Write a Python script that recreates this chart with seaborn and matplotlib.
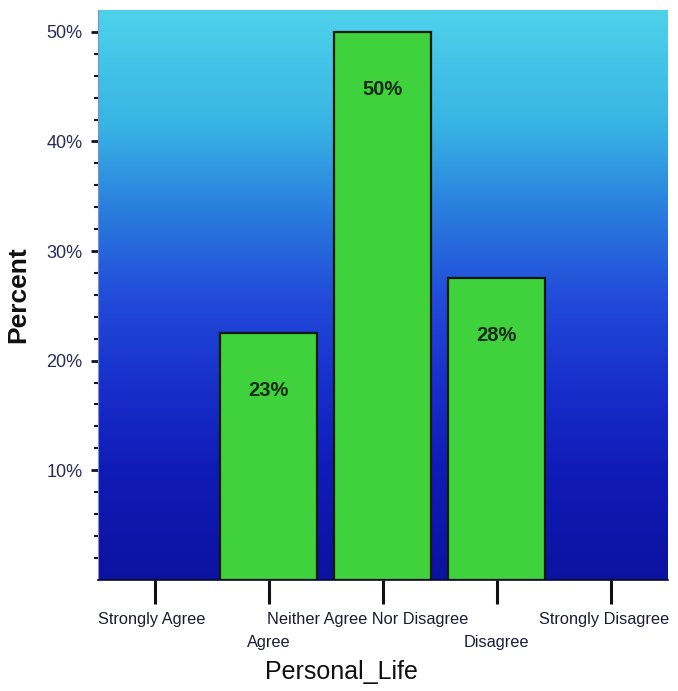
import numpy as np
import pandas as pd
import seaborn as sns
import matplotlib.pyplot as plt
from matplotlib.colors import LinearSegmentedColormap
from matplotlib.transforms import ScaledTranslation

categories = ['Strongly Agree', 'Agree', 'Neither Agree Nor Disagree', 'Disagree', 'Strongly Disagree']
percents = [0.0, 22.5, 50.0, 27.5, 0.0]
bar_labels = ['', '23%', '50%', '28%', '']
yticks = [10, 20, 30, 40, 50]

df = pd.DataFrame({'Personal_Life': categories, 'Percent': percents})

sns.set_style('white')
plt.rcParams['font.family'] = ['Liberation Sans', 'DejaVu Sans']

fig = plt.figure(figsize=(6.78, 6.91), dpi=100)
ax = fig.add_axes([0.1445, 0.161, 0.8405, 0.8245])

# gradient background, cyan at the top to deep blue at the bottom
bg = LinearSegmentedColormap.from_list('bg', [
    (0.0, '#0c12a0'), (0.2, '#101cb8'), (0.35, '#1830cc'),
    (0.5, '#224cda'), (0.65, '#2a7ede'), (0.8, '#38b4e4'), (1.0, '#4ed2ea')])
grad = np.linspace(0, 1, 256).reshape(-1, 1)
ax.imshow(grad, cmap=bg, aspect='auto', origin='lower',
          extent=[-0.5, 4.5, 0, 52], zorder=0)

sns.barplot(data=df, x='Personal_Life', y='Percent', order=categories,
            color='#3fd23c', saturation=1, width=0.85, edgecolor='#0a1a10',
            linewidth=1.6, errorbar=None, zorder=2, ax=ax)

ax.bar_label(ax.containers[0], labels=bar_labels, padding=-48, fontsize=14.5,
             fontweight='bold', color='#1c2a1c', zorder=3)

ax.set_xlim(-0.5, 4.5)
ax.set_ylim(0, 52)
ax.set_yticks(yticks)
ax.set_yticklabels([f'{t}%' for t in yticks], fontsize=13, color='#2a2a58')
ax.set_yticks(np.arange(2, 52, 2), minor=True)
ax.tick_params(axis='y', which='major', left=True, length=5, width=2, color='#101030', pad=6)
ax.tick_params(axis='y', which='minor', left=True, length=3, width=1.5, color='#101030')

ax.set_xticks(range(len(categories)))
ax.set_xticklabels(categories, fontsize=11.8, color='#1c1c38')
ax.tick_params(axis='x', bottom=True, length=17, width=2.2, color='#101010', pad=6)

# staggered labels: odd ones drop to a second row, long ones nudged left
shift_x = [-3, 0, -15, 0, -7]
for i, lab in enumerate(ax.get_xticklabels()):
    dy = -23 / 100 if i % 2 == 1 else 0
    lab.set_transform(lab.get_transform() + ScaledTranslation(shift_x[i] / 100, dy, fig.dpi_scale_trans))

for side in ['top', 'right']:
    ax.spines[side].set_visible(False)
ax.spines['left'].set_color('#8090c0')
ax.spines['left'].set_linewidth(0.8)
ax.spines['bottom'].set_color('#0a0a30')
ax.spines['bottom'].set_linewidth(1.2)

ax.set_ylabel('Percent', fontsize=19, fontweight='bold', color='#101010', labelpad=12)
ax.set_xlabel('')
fig.text(0.503, 0.028, 'Personal_Life', fontsize=18, color='#101010', ha='center', va='center')

fig.savefig('out.png', dpi=100)
